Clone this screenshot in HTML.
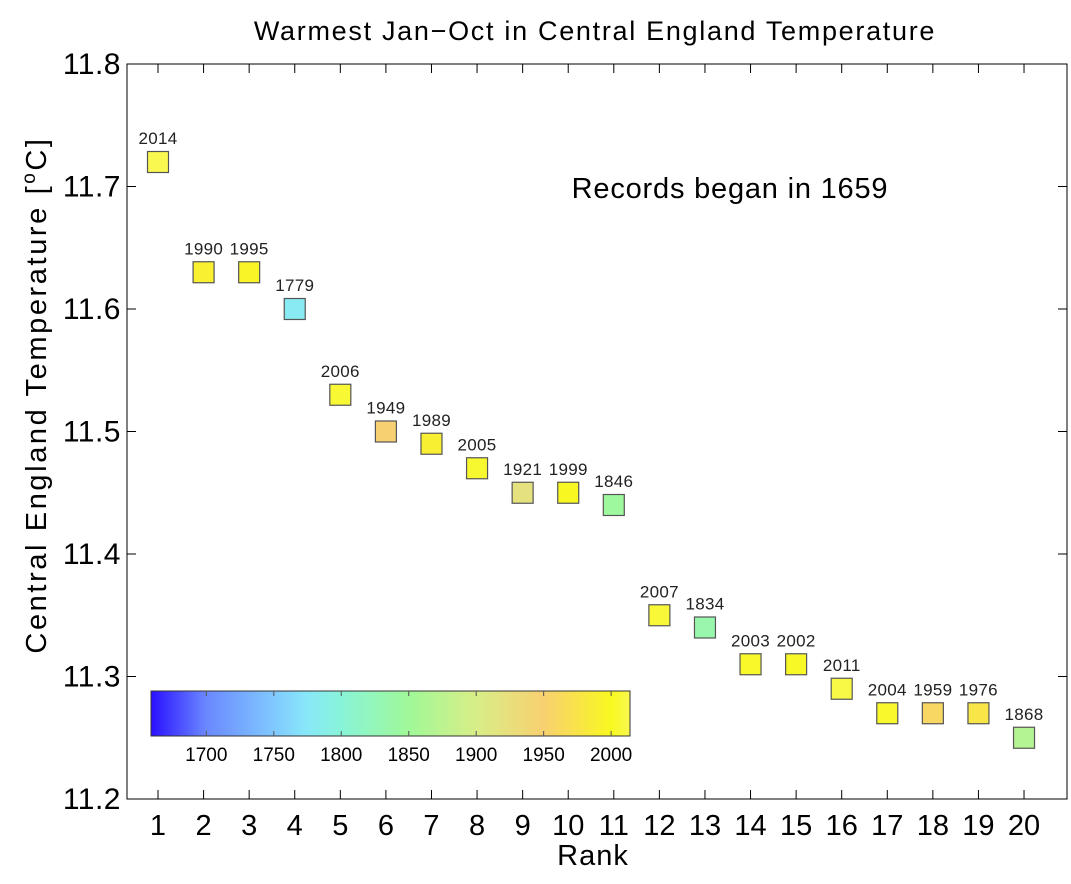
<!DOCTYPE html>
<html><head><meta charset="utf-8"><style>
body{margin:0;background:#fff;}
svg text{font-family:"Liberation Sans",sans-serif;}
</style></head><body>
<svg id="chart" width="1071" height="879" xmlns="http://www.w3.org/2000/svg">
<defs>
<linearGradient id="cmap" x1="0" x2="1" y1="0" y2="0">
<stop offset="0" stop-color="#2a10ff"/>
<stop offset="0.115" stop-color="#6a88ff"/>
<stop offset="0.256" stop-color="#80c8ff"/>
<stop offset="0.326" stop-color="#88e8f8"/>
<stop offset="0.397" stop-color="#88f4d8"/>
<stop offset="0.538" stop-color="#a0f898"/>
<stop offset="0.679" stop-color="#d8ee88"/>
<stop offset="0.820" stop-color="#f8d070"/>
<stop offset="0.961" stop-color="#f8f820"/>
<stop offset="1" stop-color="#f8f850"/>
</linearGradient>
</defs>
<text x="595" y="40" font-size="27" letter-spacing="1.7" text-anchor="middle">Warmest Jan−Oct in Central England Temperature</text>
<rect x="127" y="64" width="940" height="735" fill="none" stroke="#000" stroke-width="1"/>
<g id="axes"></g>
<g id="marks"></g>
<text x="730" y="198" font-size="29" letter-spacing="0.8" text-anchor="middle">Records began in 1659</text>
<text transform="translate(46,395) rotate(-90)" font-size="29" letter-spacing="2.6" text-anchor="middle">Central England Temperature  [<tspan font-size="19" dy="-11">o</tspan><tspan dy="11">C]</tspan></text>
<text x="593" y="865" font-size="29" letter-spacing="1" text-anchor="middle">Rank</text>
<g id="colorbar">
<rect x="151" y="691" width="479" height="45" fill="url(#cmap)" stroke="#333" stroke-width="1"/>
</g>
</svg>
<script>
const ranks=[1,2,3,4,5,6,7,8,9,10,11,12,13,14,15,16,17,18,19,20];
const temps=[11.72,11.63,11.63,11.60,11.53,11.50,11.49,11.47,11.45,11.45,11.44,11.35,11.34,11.31,11.31,11.29,11.27,11.27,11.27,11.25];
const years=[2014,1990,1995,1779,2006,1949,1989,2005,1921,1999,1846,2007,1834,2003,2002,2011,2004,1959,1976,1868];
const yTicks=[11.2,11.3,11.4,11.5,11.6,11.7,11.8];
const cbTicks=[1700,1750,1800,1850,1900,1950,2000];
const NS='http://www.w3.org/2000/svg';
const X=r=>158+(r-1)*45.58;
const Y=v=>799-(v-11.2)*1225;
const yr0=1659,yr1=2014;
const CB=y=>151+(y-yr0)/(yr1-yr0)*479;
const stops=[[0,[42,16,255]],[0.115,[106,136,255]],[0.256,[128,200,255]],[0.326,[136,232,248]],[0.397,[136,244,216]],[0.538,[160,248,152]],[0.679,[216,238,136]],[0.82,[248,208,112]],[0.961,[248,248,32]],[1,[248,248,80]]];
function cmap(y){const t=(y-yr0)/(yr1-yr0);for(let i=1;i<stops.length;i++){if(t<=stops[i][0]){const a=stops[i-1],b=stops[i];const f=(t-a[0])/(b[0]-a[0]);const c=a[1].map((v,k)=>Math.round(v+(b[1][k]-v)*f));return `rgb(${c})`;}}return 'rgb(248,248,80)';}
function el(tag,attrs,parent){const e=document.createElementNS(NS,tag);for(const k in attrs)e.setAttribute(k,attrs[k]);parent.appendChild(e);return e;}
const axes=document.getElementById('axes'),marks=document.getElementById('marks'),cb=document.getElementById('colorbar');
yTicks.forEach(v=>{const y=Y(v);
el('line',{x1:127,x2:136,y1:y,y2:y,stroke:'#000'},axes);
el('line',{x1:1058,x2:1067,y1:y,y2:y,stroke:'#000'},axes);
const t=el('text',{x:121,y:y+10,'font-size':30,'letter-spacing':0.5,'text-anchor':'end'},axes);t.textContent=v.toFixed(1);

});
ranks.forEach(r=>{const x=X(r);
el('line',{x1:x,x2:x,y1:790,y2:799,stroke:'#000'},axes);
el('line',{x1:x,x2:x,y1:64,y2:73,stroke:'#000'},axes);
const t=el('text',{x:x,y:835,'font-size':29,'text-anchor':'middle'},axes);t.textContent=r;

});
ranks.forEach((r,i)=>{const x=X(r),y=Y(temps[i]);
const m=el('rect',{x:x-10.5,y:y-10.5,width:21,height:21,fill:cmap(years[i]),stroke:'#555','stroke-width':1.2},marks);


const t=el('text',{x:x,y:y-18,'font-size':17,'letter-spacing':0.3,'text-anchor':'middle',fill:'#222'},marks);t.textContent=years[i];

});
cbTicks.forEach(v=>{const x=CB(v);
el('line',{x1:x,x2:x,y1:691,y2:696,stroke:'#555'},cb);
el('line',{x1:x,x2:x,y1:731,y2:736,stroke:'#555'},cb);
const t=el('text',{x:x,y:761,'font-size':19,'text-anchor':'middle'},cb);t.textContent=v;

});
</script>
</body></html>
